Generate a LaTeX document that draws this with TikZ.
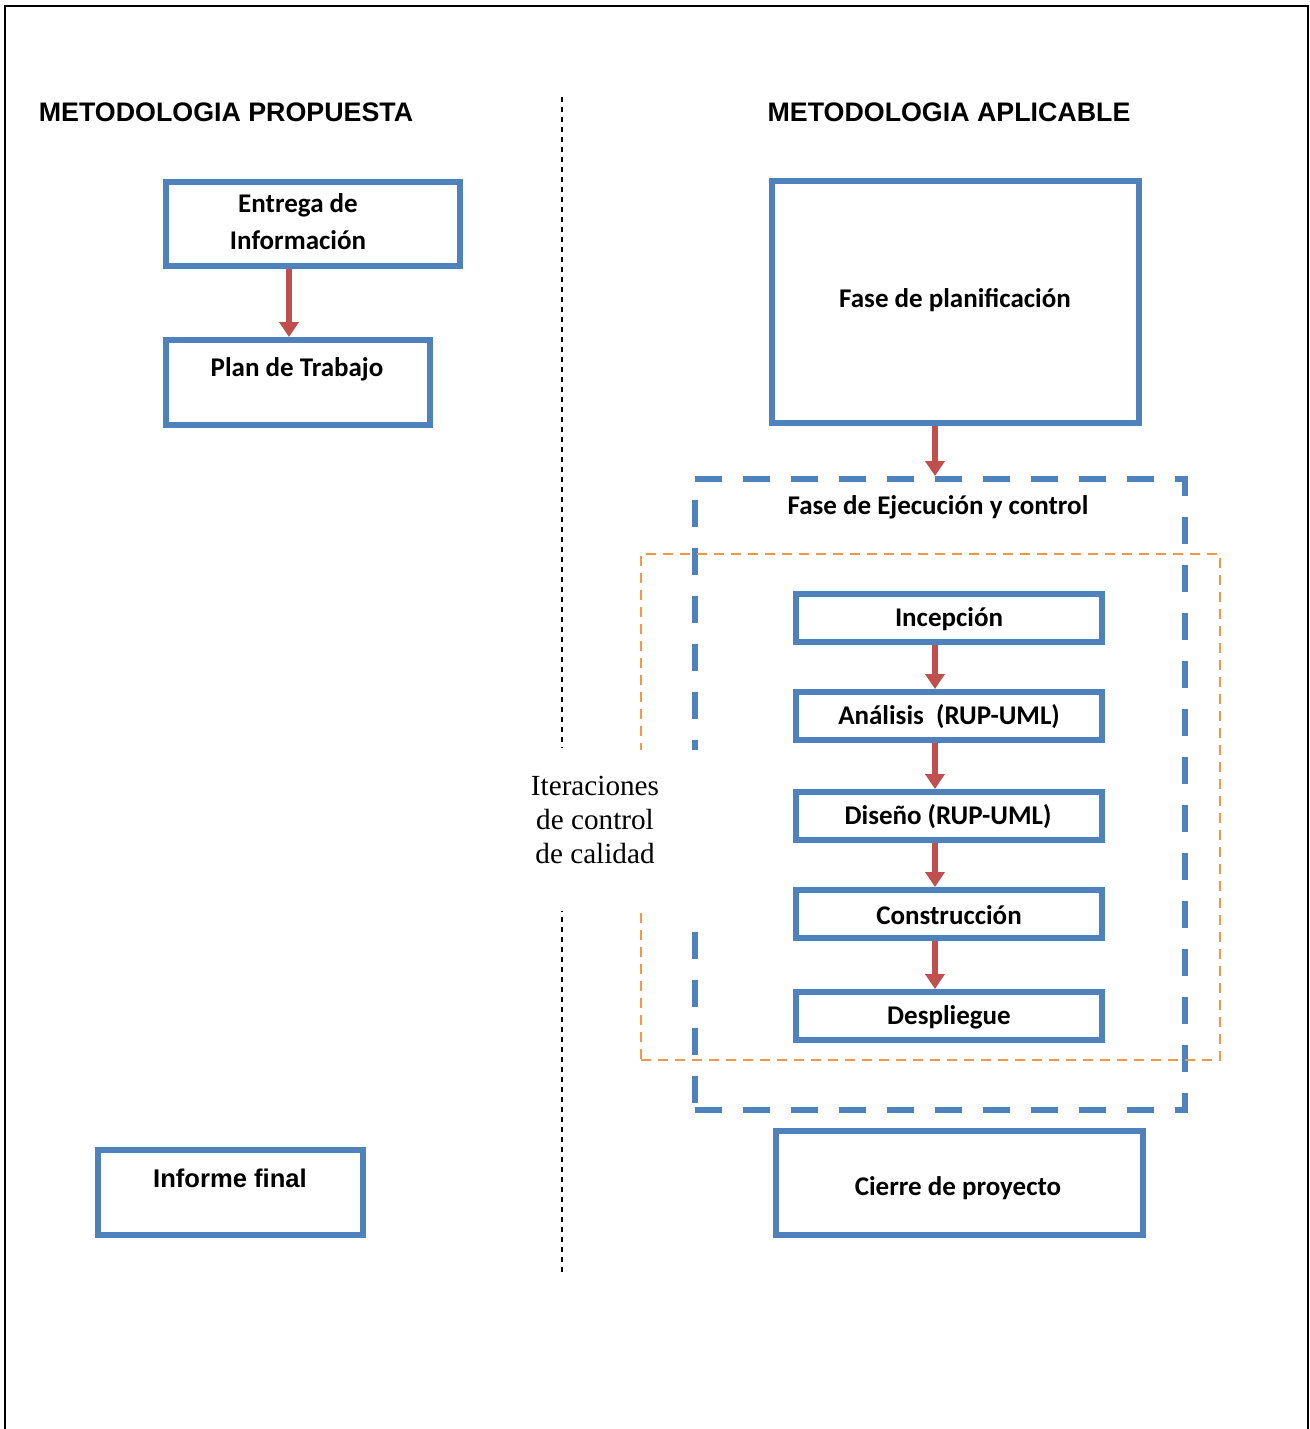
\documentclass[tikz,border=0pt]{standalone}
\usepackage{fontspec}
\setmainfont{Carlito}
\newfontfamily\arialf{Liberation Sans}
\newfontfamily\timesf{Liberation Serif}
\usetikzlibrary{arrows.meta}
\definecolor{boxblue}{HTML}{4F81BD}
\definecolor{arrred}{HTML}{C0504D}
\definecolor{iterorange}{HTML}{F79646}
\tikzset{
  bluebox/.style={draw=boxblue, line width=3pt, rectangle, inner sep=0pt},
  ejecbox/.style={draw=boxblue, line width=3pt, rectangle, inner sep=0pt, dash pattern=on 13.5pt off 10.5pt},
  iterbox/.style={draw=iterorange, line width=1.3pt, rectangle, inner sep=0pt, dash pattern=on 5pt off 3.5pt},
  redarrow/.style={draw=arrred, line width=3pt, -{Triangle[length=7.5pt,width=9.5pt]}},
  boxtext/.style={font=\fontsize{13.5}{18.5}\selectfont\bfseries, align=center, inner sep=0pt},
  titletext/.style={font=\arialf\fontsize{13.4}{15}\selectfont\bfseries, inner sep=0pt},
  divider/.style={draw=black, line width=0.8pt, dash pattern=on 2.5pt off 2.5pt}
}
\begin{document}
\begin{tikzpicture}[x=0.5pt,y=-0.5pt]
\useasboundingbox (0,0) rectangle (1310,1429);
\fill[white] (0,0) rectangle (1310,1429);
% outer frame
\draw[black, line width=1pt] (5,1429) -- (5,6) -- (1308,6) -- (1308,1429);

% titles
\node[titletext] (tprop) at (226,112) {METODOLOGIA PROPUESTA};
\node[titletext] (taplic) at (949,112) {METODOLOGIA APLICABLE};

% divider
\draw[divider] (562,97) -- (562,748);
\draw[divider] (562,907) -- (562,1275);

% left column
\node[bluebox, minimum width=147pt, minimum height=42pt] (entrega) at (313,224) {};
\node[boxtext] (tentrega) at (298,222) {Entrega de\\Información};
\node[bluebox, minimum width=132pt, minimum height=42.5pt] (plan) at (298,382.5) {};
\node[boxtext] (tplan) at (297,369) {Plan de Trabajo};
\node[bluebox, minimum width=132.5pt, minimum height=42.5pt] (informe) at (230.5,1192.5) {};
\node[font=\arialf\fontsize{12.8}{15}\selectfont\bfseries, inner sep=0pt] (tinforme) at (230,1178) {Informe final};

\coordinate (ax1) at (289,0);
\draw[redarrow] (ax1 |- entrega.south) -- (ax1 |- plan.north);

% right column
\node[bluebox, minimum width=183.5pt, minimum height=121pt] (faseplan) at (955.5,302) {};
\node[boxtext] (tfaseplan) at (955,300) {Fase de planificación};

\node[ejecbox, minimum width=245pt, minimum height=315.5pt] (ejec) at (940,794.5) {};
\node[boxtext] (tejec) at (938,507) {Fase de Ejecución y control};
\node[iterbox, minimum width=289.5pt, minimum height=253pt] (iter) at (930.5,807) {};

% gap for label
\fill[white] (515,750) rectangle (705,911);
\node[font=\timesf\fontsize{14.6}{17}\selectfont, align=center, inner sep=0pt] (titer) at (595,820) {Iteraciones\\de control\\de calidad};

\coordinate (ax2) at (935,0);
\draw[redarrow] (ax2 |- faseplan.south) -- (ax2 |- ejec.north);

\node[bluebox, minimum width=153pt, minimum height=24pt] (incep) at (949,618) {};
\node[boxtext] (tincep) at (949,619) {Incepción};
\node[bluebox, minimum width=153pt, minimum height=24pt] (anal) at (949,716) {};
\node[boxtext] (tanal) at (949,717) {Análisis\ \ (RUP-UML)};
\node[bluebox, minimum width=153pt, minimum height=24pt] (dise) at (949,816) {};
\node[boxtext] (tdise) at (948,817) {Diseño (RUP-UML)};
\node[bluebox, minimum width=153pt, minimum height=24pt] (cons) at (949,914) {};
\node[boxtext] (tcons) at (949,915) {Construcción};
\node[bluebox, minimum width=153pt, minimum height=24pt] (desp) at (949,1016) {};
\node[boxtext] (tdesp) at (949,1017) {Despliegue};

\draw[redarrow] (ax2 |- incep.south) -- (ax2 |- anal.north);
\draw[redarrow] (ax2 |- anal.south) -- (ax2 |- dise.north);
\draw[redarrow] (ax2 |- dise.south) -- (ax2 |- cons.north);
\draw[redarrow] (ax2 |- cons.south) -- (ax2 |- desp.north);

\node[bluebox, minimum width=183.5pt, minimum height=52pt] (cierre) at (959.5,1183) {};
\node[boxtext] (tcierre) at (958,1188) {Cierre de proyecto};
\end{tikzpicture}
\end{document}
